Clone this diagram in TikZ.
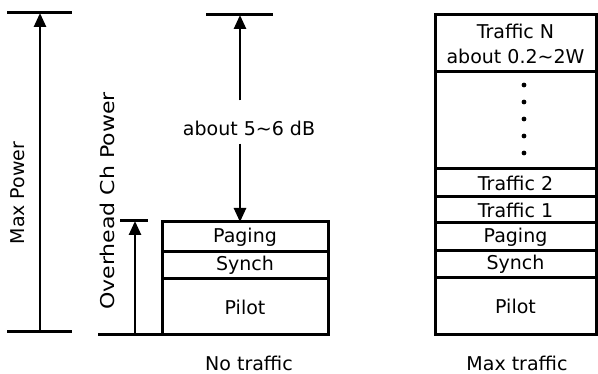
\documentclass[tikz,border=0pt]{standalone}
\usepackage{fontspec}
\setmainfont{DejaVu Sans}
\usetikzlibrary{arrows.meta}
\begin{document}
\begin{tikzpicture}[x=1pt,y=-1pt,
  every node/.style={font=\fontsize{19}{25}\selectfont},
  layer/.style={draw, line width=3pt, anchor=north west, inner sep=0pt, outer sep=0pt},
  limit/.style={line width=3pt},
  arr/.style={line width=2.6pt, -{Triangle[width=12pt,length=14pt]}}]
\useasboundingbox (0,0) rectangle (598,374);
% no traffic
\node[layer, minimum width=166pt, minimum height=30pt] (paging0) at (162,222) {Paging};
\node[layer, minimum width=166pt, minimum height=27pt] (synch0) at (162,252) {Synch};
\node[layer, minimum width=166pt, minimum height=56pt] (pilot0) at (162,279) {Pilot};
\node (none) at (249,363) {No traffic};
% max traffic
\node[layer, minimum width=161pt, minimum height=57pt, align=center] (trafN) at (435,15) {Traffic N\\about 0.2\textasciitilde 2W};
\node[layer, minimum width=161pt, minimum height=97pt] (trafdots) at (435,72) {};
\node[layer, minimum width=161pt, minimum height=28pt] (traf2) at (435,169) {Traffic 2};
\node[layer, minimum width=161pt, minimum height=26pt] (traf1) at (435,197) {Traffic 1};
\node[layer, minimum width=161pt, minimum height=28pt] (paging1) at (435,223) {Paging};
\node[layer, minimum width=161pt, minimum height=27pt] (synch1) at (435,251) {Synch};
\node[layer, minimum width=161pt, minimum height=57pt] (pilot1) at (435,278) {Pilot};
\node (full) at (517,363) {Max traffic};
\foreach \y in {85,102,119,136,153}
  \fill (524,\y) circle (2.4);
% max power
\coordinate (mpTop) at (40,13);
\coordinate (mpBot) at (40,332);
\draw[limit] ([xshift=-33pt]mpTop) -- ([xshift=32pt]mpTop);
\draw[limit] ([xshift=-33pt]mpBot) -- ([xshift=32pt]mpBot);
\draw[arr] (mpBot) -- (mpTop);
\node[rotate=90] (maxP) at (18,193) {Max Power};
% overhead
\coordinate (ohTop) at (135,221);
\coordinate (ohBot) at (135,335);
\coordinate (base) at (98,335);
\draw[limit] ([xshift=-15pt]ohTop) -- ([xshift=13pt]ohTop);
\draw[limit] (base) -- (pilot0.south west);
\draw[arr] (ohBot) -- (ohTop);
\node[rotate=90] (ohP) at (107,201) {\scalebox{1.16}[1]{Overhead Ch Power}};
% margin
\coordinate (dbTop) at (240,15);
\draw[limit] ([xshift=-34pt]dbTop) -- ([xshift=33pt]dbTop);
\node[inner ysep=8pt] (dB) at (249,128) {about 5\textasciitilde 6 dB};
\draw[arr] (dB.north -| dbTop) ++(0,-12) -- (dbTop);
\draw[arr] (dB.south -| dbTop) -- (dbTop |- paging0.north);
\end{tikzpicture}
\end{document}
